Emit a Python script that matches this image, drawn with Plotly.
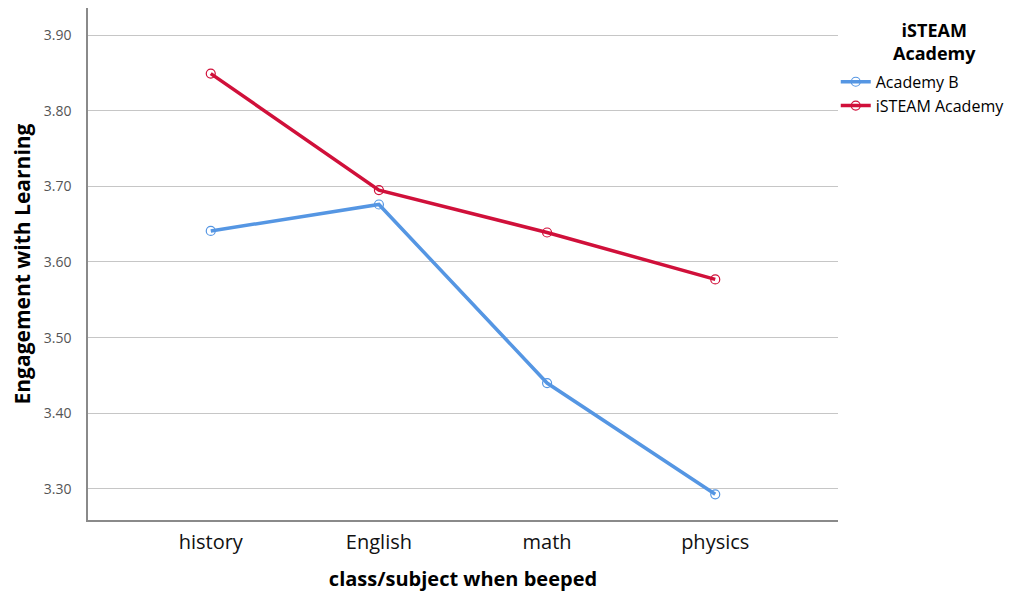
import plotly.graph_objects as go

categories = ["history", "English", "math", "physics"]
academy_b = [3.641, 3.676, 3.440, 3.293]
isteam = [3.849, 3.695, 3.639, 3.577]
y_ticks = [3.30, 3.40, 3.50, 3.60, 3.70, 3.80, 3.90]
y_tick_labels = ["3.30", "3.40", "3.50", "3.60", "3.70", "3.80", "3.90"]
legend_title = "iSTEAM<br>Academy"

FONT = "Open Sans"
BLUE = "#5596E3"
RED = "#D0103A"

fig = go.Figure()
fig.add_trace(go.Scatter(
    x=categories, y=academy_b, name="Academy B", mode="lines+markers",
    line=dict(color=BLUE, width=3.5),
    marker=dict(symbol="circle-open", size=9, color=BLUE, line=dict(width=1.2)),
))
fig.add_trace(go.Scatter(
    x=categories, y=isteam, name="iSTEAM Academy", mode="lines+markers",
    line=dict(color=RED, width=3.5),
    marker=dict(symbol="circle-open", size=9, color=RED, line=dict(width=1.2)),
))

fig.add_annotation(
    text="<b>" + legend_title + "</b>", xref="paper", yref="paper",
    x=1.129, y=0.9355, xanchor="center", yanchor="middle", align="center",
    showarrow=False, font=dict(size=18, family=FONT, color="black"),
)

fig.update_layout(
    width=1022, height=595,
    margin=dict(l=80, r=192, t=0, b=83),
    paper_bgcolor="white", plot_bgcolor="white",
    font=dict(family=FONT, color="black"),
    legend=dict(
        x=0.997, xanchor="left", y=0.889, yanchor="top",
        font=dict(size=16, family=FONT),
        itemwidth=30, tracegroupgap=0,
        bgcolor="rgba(0,0,0,0)",
    ),
    xaxis=dict(
        type="category", range=[-0.73, 3.73], automargin=False,
        showgrid=False, showline=True, linecolor="#8a8a8a", linewidth=1.5,
        ticks="", ticklabelstandoff=3,
        tickfont=dict(size=20, family=FONT, color="#111"),
        title=dict(text="<b>class/subject when beeped</b>",
                   font=dict(size=20, family=FONT), standoff=18),
        zeroline=False,
    ),
    yaxis=dict(
        range=[3.259, 3.9357], automargin=False,
        tickvals=y_ticks, ticktext=y_tick_labels,
        showgrid=True, gridcolor="#c6c6c6", gridwidth=1.2,
        showline=True, linecolor="#8a8a8a", linewidth=1.5,
        ticks="", ticklabelstandoff=12,
        tickfont=dict(size=14, family=FONT, color="#555"),
        title=dict(text="<b>Engagement with Learning</b>",
                   font=dict(size=21, family=FONT), standoff=17),
        zeroline=False,
    ),
)

fig.write_html("out.html")
